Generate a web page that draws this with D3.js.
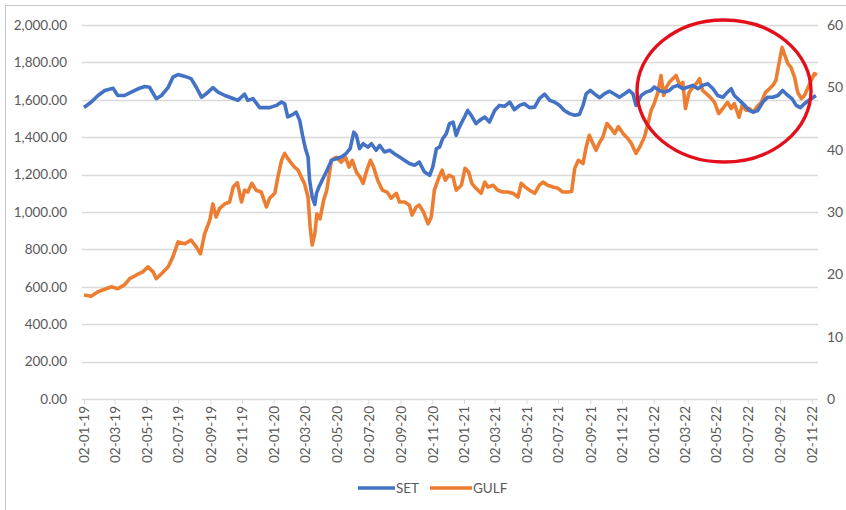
<!DOCTYPE html>
<html>
<head>
<meta charset="utf-8">
<script src="https://cdn.jsdelivr.net/npm/d3@7"></script>
<style>
    body { margin: 0; background: #fff; }
    svg { display: block; }
    text { font-family: Lato, 'Open Sans', sans-serif; }
</style>
</head>
<body>
<svg id="chart"></svg>
<script>
// days counted from the first trading day shown
const startDate = '2019-01-02'
const endDate = '2022-11-14'

const setDays = [0, 14, 27, 40, 56, 65, 78, 91, 104, 117, 126, 139, 149, 162, 171, 181, 194, 206, 216, 226, 235, 248, 258, 271, 283, 296, 309, 315, 325, 338, 351,
    357, 370, 380, 386, 392, 402, 408, 415, 421, 426, 431, 434, 439, 444, 447, 452, 458, 466, 476, 485, 495, 504, 512, 519, 524, 530, 537, 546, 553, 562, 569, 578, 588, 597, 607, 617, 626, 636, 645, 655, 665, 671, 678, 684, 690, 697, 703, 710,
    716, 722, 732, 738, 745, 754, 761, 771, 780, 790, 799, 809, 819, 828, 838, 847, 857, 867, 876, 886, 896, 905, 915, 924, 934, 944, 953, 960, 966, 974, 982, 992, 1001, 1011, 1021, 1030, 1040, 1049, 1056,
    1062, 1072, 1081, 1091, 1097, 1107, 1117, 1126, 1133, 1142, 1152, 1162, 1171, 1181, 1190, 1200, 1210, 1219, 1229, 1238, 1245, 1251, 1261, 1271, 1280, 1288, 1296, 1306, 1315, 1325, 1335, 1344, 1354, 1362, 1370, 1378, 1386, 1394, 1402, 1408]
const setValues = [1559, 1588, 1623, 1650, 1662, 1623, 1623, 1641, 1659, 1671, 1667, 1606, 1623, 1667, 1721, 1735, 1725, 1713, 1667, 1614, 1632, 1665, 1641, 1623, 1611, 1597, 1630, 1597, 1606, 1558, 1558,
    1558, 1570, 1588, 1579, 1508, 1522, 1534, 1490, 1401, 1339, 1294, 1169, 1080, 1040, 1098, 1134, 1169, 1214, 1276, 1285, 1294, 1312, 1339, 1427, 1410, 1339, 1365, 1347, 1365, 1330, 1356, 1321, 1330, 1312, 1294, 1276, 1259, 1250, 1267, 1214, 1196, 1241, 1339, 1347, 1392, 1419, 1472, 1481,
    1410, 1454, 1508, 1543, 1517, 1472, 1490, 1508, 1481, 1543, 1570, 1565, 1588, 1547, 1570, 1579, 1558, 1561, 1606, 1630, 1597, 1588, 1570, 1543, 1526, 1517, 1522, 1570, 1632, 1650, 1632, 1611, 1632, 1646, 1630, 1614, 1632, 1650, 1632,
    1570, 1623, 1641, 1650, 1668, 1650, 1641, 1650, 1668, 1677, 1659, 1668, 1677, 1659, 1677, 1686, 1659, 1623, 1614, 1641, 1659, 1623, 1597, 1570, 1543, 1534, 1543, 1588, 1614, 1614, 1623, 1650, 1623, 1606, 1570, 1558, 1579, 1597, 1611, 1623]

const gulfDays = [0, 14, 27, 40, 53, 65, 78, 88, 101, 113, 123, 133, 139, 149, 162, 171, 181, 194, 206, 216, 224, 232, 242, 248, 254, 261, 271, 280, 287, 295, 303, 309, 315, 323, 331, 341, 351,
    357, 367, 373, 380, 386, 392, 399, 405, 412, 418, 424, 431, 435, 439, 444, 448, 454, 461, 467, 476, 485, 495, 503, 510, 516, 524, 531, 537, 544, 551, 557, 565, 574, 583, 591, 601, 607, 617, 626, 631, 639, 645, 653, 662, 668, 674, 683, 689, 695, 702, 710,
    716, 726, 733, 740, 746, 754, 764, 771, 777, 787, 796, 806, 815, 825, 835, 841, 849, 857, 867, 876, 883, 892, 902, 912, 921, 931, 938, 944, 951, 960, 966, 972, 979, 985, 992, 998, 1006, 1014, 1021, 1028, 1037, 1046, 1053,
    1062, 1069, 1078, 1085, 1091, 1097, 1104, 1110, 1115, 1120, 1126, 1133, 1139, 1146, 1152, 1157, 1164, 1171, 1178, 1184, 1190, 1197, 1205, 1213, 1221, 1229, 1238, 1245, 1251, 1260, 1266, 1274, 1280, 1287, 1294, 1303, 1311, 1319, 1325, 1331, 1338, 1343, 1347, 1354, 1360, 1367, 1373, 1380, 1386, 1392, 1399, 1405, 1410]
const gulfValues = [16.7, 16.5, 17.2, 17.6, 18.0, 17.7, 18.3, 19.3, 19.9, 20.4, 21.2, 20.4, 19.3, 20.1, 21.2, 22.8, 25.2, 24.9, 25.5, 24.4, 23.3, 26.5, 28.7, 31.3, 29.2, 30.6, 31.3, 31.6, 34.0, 34.7, 31.6, 33.5, 33.2, 34.6, 33.5, 33.2, 30.8,
    32.2, 33.0, 35.6, 38.3, 39.4, 38.6, 37.8, 37.2, 36.7, 35.6, 34.6, 32.4, 27.6, 24.7, 26.5, 29.7, 28.9, 31.9, 33.5, 38.3, 38.8, 38.0, 38.8, 37.2, 38.3, 36.4, 35.6, 34.6, 36.7, 38.3, 37.2, 35.1, 33.5, 33.2, 32.2, 33.0, 31.6, 31.6, 31.1, 29.5, 30.8, 31.1, 30.0, 28.1, 29.2, 33.5, 35.6, 36.7, 35.1, 35.9, 35.6,
    33.5, 34.3, 37.0, 36.4, 34.6, 33.8, 33.0, 34.8, 34.0, 34.3, 33.5, 33.2, 33.2, 33.0, 32.4, 34.6, 34.0, 33.5, 33.0, 34.3, 34.8, 34.3, 34.0, 33.8, 33.2, 33.2, 33.3, 37.0, 38.3, 37.8, 40.4, 42.3, 41.0, 39.9, 41.2, 42.0, 44.2, 43.4, 42.6, 43.7, 42.6, 41.8, 41.0,
    39.4, 40.4, 42.0, 44.2, 46.3, 47.4, 49.2, 51.9, 48.7, 50.0, 50.8, 51.4, 51.9, 50.3, 50.8, 46.6, 49.2, 50.0, 50.6, 51.4, 49.5, 49.0, 48.4, 47.6, 45.8, 46.6, 47.6, 46.6, 47.4, 45.2, 47.1, 46.3, 46.6, 46.0, 46.8, 47.6, 49.2, 49.8, 50.3, 51.1, 54.3, 56.4, 55.4, 53.8, 53.2, 51.6, 49.2, 48.2, 48.7, 49.8, 51.1, 52.2, 52.0]

const leftTicks = [0, 200, 400, 600, 800, 1000, 1200, 1400, 1600, 1800, 2000]
const rightTicks = [0, 10, 20, 30, 40, 50, 60]
const seriesNames = ['SET', 'GULF']
const seriesColors = ['#4472C4', '#ED7D31']

let width = 846
let height = 510
let margin = { top: 25, right: 28, bottom: 111, left: 84 }

const parseDate = d3.timeParse('%Y-%m-%d')
const start = parseDate(startDate)

const setData = setDays.map((d, i) => ({ date: d3.timeDay.offset(start, d), value: setValues[i] }))
const gulfData = gulfDays.map((d, i) => ({ date: d3.timeDay.offset(start, d), value: gulfValues[i] }))

// a label on the 2nd of every other month
const tickDates = d3.range(24).map((i) => d3.timeMonth.offset(start, i * 2))

const svg = d3
    .select('#chart')
    .attr('width', width)
    .attr('height', height)

svg.append('rect')
    .attr('x', 5.5)
    .attr('y', 5.5)
    .attr('width', width + 20)
    .attr('height', height + 20)
    .attr('fill', '#fff')
    .attr('stroke', '#c8c8c8')

const xScale = d3
    .scaleTime()
    .domain([start, parseDate(endDate)])
    .range([margin.left, width - margin.right])

const yLeft = d3
    .scaleLinear()
    .domain([0, 2000])
    .range([height - margin.bottom, margin.top])

const yRight = d3
    .scaleLinear()
    .domain([0, 60])
    .range([height - margin.bottom, margin.top])

// gridlines
svg.append('g')
    .selectAll('line')
    .data(leftTicks.slice(1))
    .enter()
    .append('line')
    .attr('x1', margin.left - 2)
    .attr('x2', width - margin.right)
    .attr('y1', (d) => Math.round(yLeft(d)) + 0.5)
    .attr('y2', (d) => Math.round(yLeft(d)) + 0.5)
    .attr('stroke', '#d9d9d9')
    .attr('stroke-width', 1.3)

// left axis
svg.append('g')
    .attr('transform', 'translate(' + (margin.left - 14) + ',0)')
    .style('font-size', '13.5px')
    .call(d3.axisLeft(yLeft).tickValues(leftTicks).tickFormat(d3.format(',.2f')).tickSize(0))
    .call((g) => g.select('.domain').remove())
    .selectAll('text')
    .attr('fill', '#595959')
    .attr('font-family', "Lato, 'Open Sans', sans-serif")

// right axis (cut by the picture edge, as in the original)
svg.append('g')
    .attr('transform', 'translate(' + (width - margin.right + 6) + ',0)')
    .style('font-size', '14px')
    .call(d3.axisRight(yRight).tickValues(rightTicks).tickFormat(d3.format('d')).tickSize(0))
    .call((g) => g.select('.domain').remove())
    .selectAll('text')
    .attr('fill', '#595959')
    .attr('font-family', "Lato, 'Open Sans', sans-serif")

// bottom axis
const xAxis = svg
    .append('g')
    .attr('transform', 'translate(0,' + yLeft(0) + ')')
    .call(d3.axisBottom(xScale).tickValues(tickDates).tickFormat(d3.timeFormat('%d-%m-%y')).tickSize(5))

xAxis.select('.domain')
    .attr('stroke', '#d9d9d9')
    .attr('stroke-width', 1.3)
    .attr('d', 'M' + (margin.left - 2) + ',0.5H' + (width - margin.right))

xAxis.selectAll('.tick line').attr('stroke', '#d9d9d9')

xAxis.selectAll('text')
    .attr('fill', '#595959')
    .attr('font-family', "Lato, 'Open Sans', sans-serif")
    .style('font-size', '13.5px')
    .attr('text-anchor', 'end')
    .attr('transform', 'rotate(-90)')
    .attr('x', -7)
    .attr('y', 0)
    .attr('dy', '0.35em')

// lines
const setLine = d3
    .line()
    .x((d) => xScale(d.date))
    .y((d) => yLeft(d.value))

const gulfLine = d3
    .line()
    .x((d) => xScale(d.date))
    .y((d) => yRight(d.value))

svg.append('path')
    .datum(gulfData)
    .attr('d', gulfLine)
    .attr('fill', 'none')
    .attr('stroke', seriesColors[1])
    .attr('stroke-width', 3.6)
    .attr('stroke-linejoin', 'round')

svg.append('path')
    .datum(setData)
    .attr('d', setLine)
    .attr('fill', 'none')
    .attr('stroke', seriesColors[0])
    .attr('stroke-width', 3.6)
    .attr('stroke-linejoin', 'round')

// highlight ring
svg.append('ellipse')
    .attr('cx', 724)
    .attr('cy', 91)
    .attr('rx', 87)
    .attr('ry', 71)
    .attr('fill', 'none')
    .attr('stroke', '#e3101b')
    .attr('stroke-width', 3.4)

// legend
const legend = svg
    .append('g')
    .selectAll('g')
    .data(seriesNames)
    .enter()
    .append('g')
    .attr('transform', (d, i) => 'translate(' + (358 + i * 72) + ',488)')

legend.append('line')
    .attr('x1', 0)
    .attr('x2', (d, i) => (i === 0 ? 37 : 42))
    .attr('stroke', (d, i) => seriesColors[i])
    .attr('stroke-width', 3.6)

legend.append('text')
    .attr('x', (d, i) => (i === 0 ? 38 : 43))
    .attr('dy', '0.35em')
    .attr('fill', '#595959')
    .style('font-size', '13.5px')
    .text((d) => d)
</script>
</body>
</html>
